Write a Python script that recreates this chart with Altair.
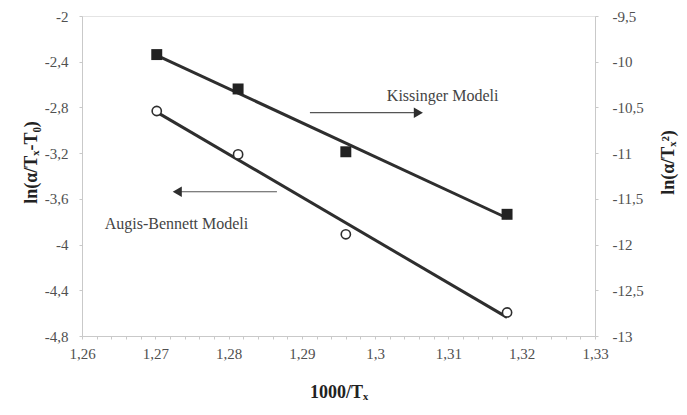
import altair as alt
import pandas as pd

# ---- data ----
x_vals = [1.2702, 1.2813, 1.2960, 1.3180]          # 1000/Tx
augis_bennett = [-2.831, -3.211, -3.910, -4.594]   # ln(a/(Tx-T0)), left axis
kissinger = [-9.922, -10.298, -10.985, -11.669]    # ln(a/Tx^2), right axis

x_minor = [round(1.26 + 0.002 * i, 3) for i in range(36)]
left_ticks = [-4.8, -4.4, -4.0, -3.6, -3.2, -2.8, -2.4, -2.0]
right_ticks = [-13.0, -12.5, -12.0, -11.5, -11.0, -10.5, -10.0, -9.5]

ann_text = ["Kissinger Modeli", "Augis-Bennett Modeli"]
ann_text_x = [1.3016, 1.2631]
ann_text_y = [-2.704, -3.821]
arrow_tail_x = [1.2911, 1.2866]
arrow_head_x = [1.3059, 1.2730]
arrow_y = [-2.846, -3.538]
arrow_shape = ["triangle-right", "triangle-left"]

pts = pd.DataFrame({"x": x_vals, "ab": augis_bennett, "k": kissinger})
ann = pd.DataFrame({"t": ann_text, "tx": ann_text_x, "ty": ann_text_y})
arr = pd.DataFrame({"x1": arrow_tail_x, "x2": arrow_head_x, "y": arrow_y,
                    "shape": arrow_shape})

FONT = "Liberation Serif"
DARK = "#2e2e2e"
AXIS_C = "#c9c9c9"
LBL = "#505050"

xscale = alt.Scale(domain=[1.26, 1.33], nice=False, zero=False)
lscale = alt.Scale(domain=[-4.8, -2.0], nice=False, zero=False)
rscale = alt.Scale(domain=[-13.0, -9.5], nice=False, zero=False)

common = dict(
    grid=False, domainColor=AXIS_C, tickColor=AXIS_C, tickSize=3,
    labelFont=FONT, labelFontSize=15, labelColor=LBL, labelFlush=False,
    titleFont=FONT, titleFontSize=18, titleFontWeight="bold", titleColor="#222222",
)

x_axis = alt.Axis(
    title="1000/Tₓ", values=x_minor,
    labelExpr="(round(datum.value*1000) % 10 == 0) ? replace(toString(datum.value), '.', ',') : ''",
    labelPadding=7, titlePadding=22, labelOverlap=False, **common,
)
left_axis = alt.Axis(
    title="ln(α/Tₓ-T₀)", orient="left", values=left_ticks,
    labelExpr="replace(toString(datum.value), '.', ',')",
    labelPadding=11, titlePadding=4, titleY=146, **common,
)
right_axis = alt.Axis(
    title="ln(α/Tₓ²)", orient="right", values=right_ticks,
    labelExpr="replace(toString(datum.value), '.', ',')",
    labelPadding=14, titlePadding=16, titleAngle=270, titleBaseline="top",
    titleY=146, **common,
)

base = alt.Chart(pts)

ab_line = base.transform_regression("x", "ab", method="linear").mark_line(
    color=DARK, strokeWidth=3
).encode(
    x=alt.X("x:Q", scale=xscale, axis=x_axis),
    y=alt.Y("ab:Q", scale=lscale, axis=left_axis),
)
ab_pts = base.mark_point(
    shape="circle", size=85, filled=False, fill="white", fillOpacity=1,
    stroke=DARK, strokeWidth=1.6, opacity=1
).encode(
    x=alt.X("x:Q", scale=xscale, axis=x_axis),
    y=alt.Y("ab:Q", scale=lscale, axis=left_axis),
)
arrows = alt.Chart(arr).mark_rule(color="#555555", strokeWidth=1.2).encode(
    x=alt.X("x1:Q", scale=xscale, axis=x_axis),
    x2="x2:Q",
    y=alt.Y("y:Q", scale=lscale, axis=left_axis),
)
heads = alt.Chart(arr).mark_point(
    filled=True, size=110, color=DARK, opacity=1
).encode(
    x=alt.X("x2:Q", scale=xscale, axis=x_axis),
    y=alt.Y("y:Q", scale=lscale, axis=left_axis),
    shape=alt.Shape("shape:N", scale=None, legend=None),
)
texts = alt.Chart(ann).mark_text(
    align="left", baseline="middle", font=FONT, fontSize=16, color="#444444"
).encode(
    x=alt.X("tx:Q", scale=xscale, axis=x_axis),
    y=alt.Y("ty:Q", scale=lscale, axis=left_axis),
    text="t:N",
)

left = alt.layer(ab_line, ab_pts, arrows, heads, texts)

k_line = base.transform_regression("x", "k", method="linear").mark_line(
    color=DARK, strokeWidth=3
).encode(
    x=alt.X("x:Q", scale=xscale, axis=x_axis),
    y=alt.Y("k:Q", scale=rscale, axis=right_axis),
)
k_pts = base.mark_point(
    shape="square", size=120, filled=True, color="#222222", opacity=1
).encode(
    x=alt.X("x:Q", scale=xscale, axis=x_axis),
    y=alt.Y("k:Q", scale=rscale, axis=right_axis),
)
right = alt.layer(k_line, k_pts)

chart = alt.layer(left, right).resolve_scale(y="independent").properties(
    width=513, height=320,
    autosize=alt.AutoSizeParams(type="none"),
    padding={"left": 74, "top": 8, "right": 84, "bottom": 71},
    background="white",
).configure_view(stroke="#e4e4e4")

chart.save("out.html", embed_options={"renderer": "svg", "actions": False})
